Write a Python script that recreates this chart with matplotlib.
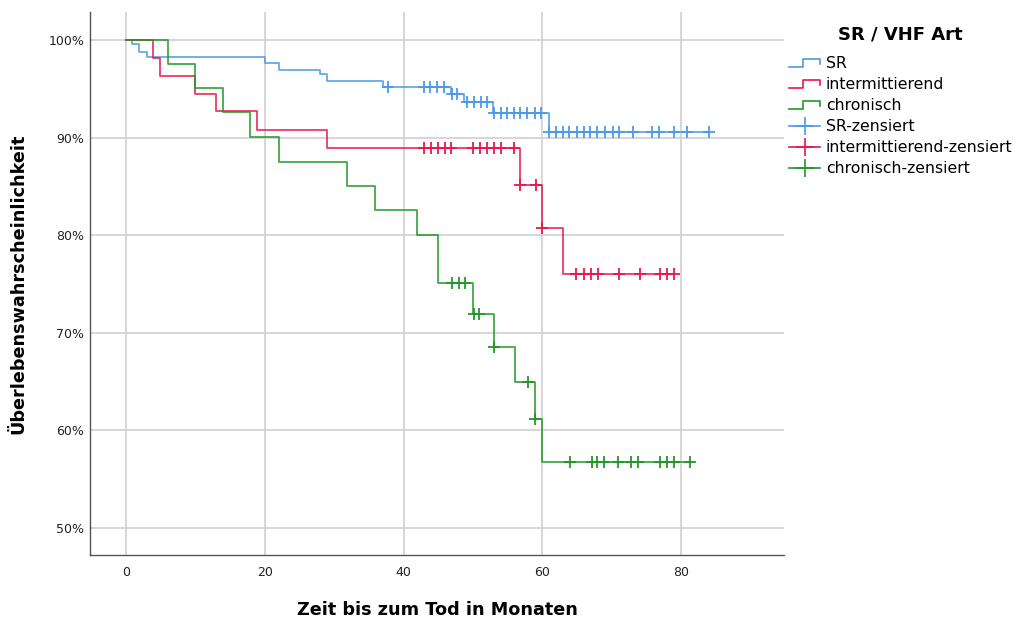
import numpy as np
import matplotlib
matplotlib.use("Agg")
import matplotlib.pyplot as plt
from matplotlib.lines import Line2D
from matplotlib.legend_handler import HandlerBase

# ---------------- data ----------------
groups = ["SR", "intermittierend", "chronisch"]

sr_event_t = [0.8, 1.9, 3.0, 20.0, 22.0, 28.0, 29.0, 37.0, 46.8, 48.7, 52.8, 60.9]
sr_surv = [99.6, 98.8, 98.3, 97.7, 97.0, 96.5, 95.8, 95.25, 94.5, 93.7, 92.55, 90.6]
sr_cens_t = [37.8, 42.9, 43.8, 44.8, 45.8, 47.0, 47.7, 49.1, 50.1, 51.1, 52.0, 53.0,
             54.0, 54.9, 55.9, 56.8, 57.8, 58.9, 59.8, 60.9, 61.9, 62.9, 63.8, 65.0,
             66.0, 66.9, 67.9, 69.0, 70.1, 71.0, 73.0, 75.8, 76.8, 78.9, 80.8, 84.0]
sr_end = 84.0

int_event_t = [3.9, 4.9, 9.9, 13.0, 18.9, 29.0, 56.8, 60.0, 62.9]
int_surv = [98.2, 96.3, 94.5, 92.7, 90.8, 88.9, 85.2, 80.7, 76.0]
int_cens_t = [42.9, 43.9, 44.9, 45.9, 46.8, 50.0, 51.0, 52.0, 53.0, 54.0, 55.9,
              56.8, 59.0, 60.0, 64.9, 66.0, 67.0, 68.0, 71.0, 74.1, 76.9, 78.0, 79.0]
int_end = 79.0

chr_event_t = [6.0, 10.0, 13.9, 17.9, 22.0, 31.9, 35.9, 41.9, 44.9, 50.0, 53.0,
               56.0, 58.9, 60.0]
chr_surv = [97.6, 95.1, 92.6, 90.1, 87.5, 85.1, 82.6, 80.0, 75.1, 71.9, 68.5,
            64.9, 61.1, 56.7]
chr_cens_t = [47.0, 47.9, 48.9, 50.1, 50.8, 53.0, 57.9, 58.9, 64.0, 67.1, 67.9,
              68.8, 70.9, 72.8, 73.8, 76.9, 77.9, 79.0, 81.3]
chr_end = 81.3

x_ticks = [0, 20, 40, 60, 80]
y_ticks = [50, 60, 70, 80, 90, 100]

colors = ["#4a9ae8", "#e8174c", "#23962a"]

# ---------------- figure ----------------
fig = plt.figure(figsize=(10.15, 6.19), dpi=100)
ax = fig.add_axes([90 / 1015, 64 / 619, 694 / 1015, 543 / 619])

series = [
    (sr_event_t, sr_surv, sr_cens_t, sr_end),
    (int_event_t, int_surv, int_cens_t, int_end),
    (chr_event_t, chr_surv, chr_cens_t, chr_end),
]

for (et, sv, ct, end), col in zip(series, colors):
    t = np.array([0.0] + list(et) + [end])
    s = np.array([100.0] + list(sv) + [sv[-1]])
    ax.step(t, s, where="post", color=col, lw=1.3, alpha=0.85, zorder=3)
    ct = np.array(ct)
    idx = np.searchsorted(np.array([0.0] + list(et)), ct, side="right") - 1
    cy = np.array([100.0] + list(sv))[idx]
    ax.plot(ct, cy, linestyle="none", marker="+", markersize=8,
            markeredgewidth=1.3, color=col, zorder=4)

ax.set_xlim(-5.2, 94.8)
ax.set_ylim(47.2, 102.9)
ax.set_xticks(x_ticks)
ax.set_yticks(y_ticks)
ax.set_yticklabels([f"{v}%" for v in y_ticks])
ax.tick_params(axis="both", length=0, labelsize=9, colors="#222222")
ax.tick_params(axis="x", pad=8)
ax.tick_params(axis="y", pad=4)
ax.grid(True, color="#cfcfcf", lw=1.2, zorder=0)
ax.set_axisbelow(True)
for sp in ["top", "right"]:
    ax.spines[sp].set_visible(False)
for sp in ["left", "bottom"]:
    ax.spines[sp].set_color("#555555")
    ax.spines[sp].set_linewidth(1.0)

ax.set_xlabel("Zeit bis zum Tod in Monaten", fontsize=12.7, fontweight="bold",
              labelpad=16)
ax.set_ylabel("Überlebenswahrscheinlichkeit", fontsize=12.7, fontweight="bold",
              labelpad=15)


class StepHandler(HandlerBase):
    def create_artists(self, legend, orig_handle, xdescent, ydescent, width,
                       height, fontsize, trans):
        x0 = -xdescent
        h0 = -ydescent + height * 0.15
        h1 = -ydescent + height * 0.85
        xs = [x0, x0 + width * 0.45, x0 + width * 0.45, x0 + width, x0 + width]
        ys = [h0, h0, h1, h1, h0 + height * 0.25]
        ln = Line2D(xs, ys, color=orig_handle.get_color(), lw=1.2,
                    transform=trans)
        return [ln]


curve_handles = [Line2D([], [], color=c) for c in colors]
cens_handles = [Line2D([], [], color=c, marker="+", markersize=13,
                       markeredgewidth=1.2, lw=1.2) for c in colors]
handles = curve_handles + cens_handles
labels = groups + [g + "-zensiert" for g in groups]
hmap = {h: StepHandler() for h in curve_handles}

leg = fig.legend(handles, labels, loc="upper left",
                 bbox_to_anchor=(778 / 1015, 1 - 15 / 619),
                 frameon=False, fontsize=11.3, title="SR / VHF Art",
                 title_fontproperties={"weight": "bold", "size": 13},
                 handler_map=hmap, handlelength=2.0, handletextpad=0.35,
                 labelspacing=0.38, borderpad=0.2)
leg._legend_box.align = "center"
leg._legend_box.sep = 9

fig.savefig("out.png", dpi=100)
